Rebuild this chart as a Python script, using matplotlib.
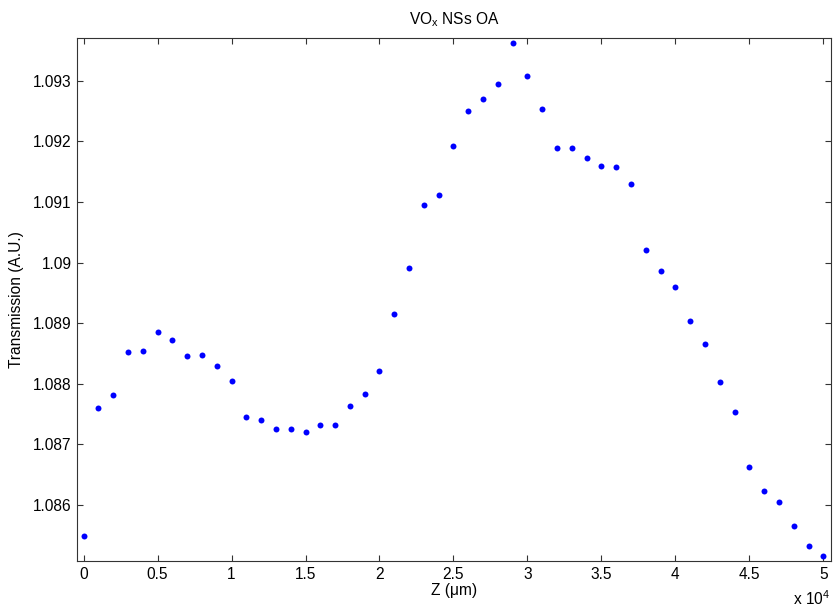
import matplotlib
matplotlib.use("Agg")
import matplotlib.pyplot as plt
from matplotlib.ticker import FuncFormatter

plt.rcParams['font.family'] = ['Liberation Sans', 'DejaVu Sans']
plt.rcParams['mathtext.fontset'] = 'custom'
plt.rcParams['mathtext.rm'] = 'Liberation Sans'

z_um = [0, 1000, 2000, 3000, 4000, 5000, 6000, 7000, 8000, 9000,
        10000, 11000, 12000, 13000, 14000, 15000, 16000, 17000, 18000, 19000,
        20000, 21000, 22000, 23000, 24000, 25000, 26000, 27000, 28000, 29000,
        30000, 31000, 32000, 33000, 34000, 35000, 36000, 37000, 38000, 39000,
        40000, 41000, 42000, 43000, 44000, 45000, 46000, 47000, 48000, 49000,
        50000]
transmission = [1.085493, 1.087599, 1.087810, 1.088525, 1.088541, 1.088855, 1.088728, 1.088464, 1.088480, 1.088289,
                1.088041, 1.087447, 1.087403, 1.087259, 1.087249, 1.087210, 1.087315, 1.087315, 1.087639, 1.087827,
                1.088216, 1.089157, 1.089916, 1.090946, 1.091120, 1.091924, 1.092502, 1.092700, 1.092952, 1.093629,
                1.093079, 1.092540, 1.091896, 1.091896, 1.091726, 1.091599, 1.091572, 1.091297, 1.090208, 1.089866,
                1.089592, 1.089041, 1.088662, 1.088025, 1.087540, 1.086632, 1.086231, 1.086045, 1.085653, 1.085318,
                1.085158]
x_ticks = [0, 5000, 10000, 15000, 20000, 25000, 30000, 35000, 40000, 45000, 50000]
y_ticks = [1.086, 1.087, 1.088, 1.089, 1.090, 1.091, 1.092, 1.093]
y_tick_labels = ['1.086', '1.087', '1.088', '1.089', '1.09', '1.091', '1.092', '1.093']

fig = plt.figure(figsize=(8.33, 6.10), dpi=100)
ax = fig.add_axes([0.0924, 0.0798, 0.9052, 0.8584])

ax.plot(z_um, transmission, linestyle='none', marker='o', color='#0000ff',
        markersize=4.3, markeredgewidth=0)

ax.set_xlim(-450, 50520)
ax.set_ylim(1.08507, 1.09371)
ax.set_xticks(x_ticks)
ax.xaxis.set_major_formatter(FuncFormatter(lambda v, p: ('%g' % (v / 1e4))))
ax.set_yticks(y_ticks)
ax.set_yticklabels(y_tick_labels)

ax.tick_params(direction='in', length=4, width=0.8, color='#333333',
               top=True, right=True, labelsize=11.2, pad=4)
for s in ax.spines.values():
    s.set_color('#333333')
    s.set_linewidth(0.8)

ax.set_title(r'VO$_{\mathrm{x}}$ NSs OA', fontsize=11.2, pad=10)
ax.set_xlabel('Z (\u03bcm)', fontsize=11.2, labelpad=1)
ax.set_ylabel('Transmission (A.U.)', fontsize=11.2, labelpad=6)
fig.text(0.996, 0.004, r'x 10$^{4}$', ha='right', va='bottom', fontsize=11.2)

fig.savefig('out.png', dpi=100)
